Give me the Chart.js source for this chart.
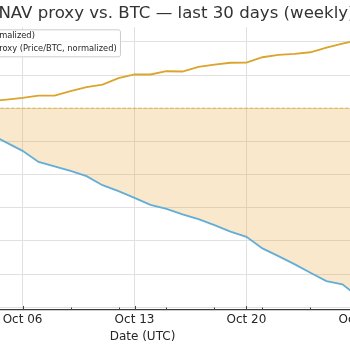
<!DOCTYPE html>
<html>
<head>
<meta charset="utf-8">
<script src="https://cdn.jsdelivr.net/npm/chart.js@4.4.1/dist/chart.umd.min.js"></script>
<style>
  html, body { margin: 0; padding: 0; background: #fff; }
  #frame { position: relative; width: 350px; height: 350px; overflow: hidden; }
  #mnav-chart { position: absolute; left: -160px; top: 0; }
</style>
</head>
<body>
<div id="frame"><canvas id="mnav-chart" width="560" height="350"></canvas></div>
<script>
// daily closes, normalized to the first day
const dates = ['Sep 30', 'Oct 01', 'Oct 02', 'Oct 03', 'Oct 04', 'Oct 05', 'Oct 06', 'Oct 07',
  'Oct 08', 'Oct 09', 'Oct 10', 'Oct 11', 'Oct 12', 'Oct 13', 'Oct 14', 'Oct 15', 'Oct 16',
  'Oct 17', 'Oct 18', 'Oct 19', 'Oct 20', 'Oct 21', 'Oct 22', 'Oct 23', 'Oct 24', 'Oct 25',
  'Oct 26', 'Oct 27'];
const btc = [1.0, 1.0030, 1.0060, 1.0083, 1.0108, 1.0130, 1.0155, 1.0191, 1.0191, 1.0256,
  1.0316, 1.0357, 1.0452, 1.0508, 1.0508, 1.0557, 1.0553, 1.0622, 1.0658, 1.0685, 1.0688,
  1.0768, 1.0803, 1.0818, 1.0843, 1.0913, 1.0974, 1.1027];
const mnav = [1.0, 0.9895, 0.9804, 0.9699, 0.9608, 0.9482, 0.9357, 0.9191, 0.9122, 0.9056,
  0.8976, 0.8840, 0.8750, 0.8649, 0.8544, 0.8483, 0.8399, 0.8328, 0.8238, 0.8140, 0.8062,
  0.7887, 0.7771, 0.7651, 0.7520, 0.7395, 0.7345, 0.7160];
const baseline = 1.0;
const tickLabels = ['Oct 06', 'Oct 13', 'Oct 20', 'Oct 27'];
const yTicks = [0.70, 0.75, 0.80, 0.85, 0.90, 0.95, 1.00, 1.05, 1.10];

const xPad = 0.05 * (dates.length - 1);
const xMin = -xPad, xMax = dates.length - 1 + xPad;
const lo = Math.min(...btc, ...mnav), hi = Math.max(...btc, ...mnav);
const yMin = lo - 0.05 * (hi - lo), yMax = hi + 0.05 * (hi - lo);

const font = { family: 'DejaVu Sans', size: 12 };
const textColor = '#262626';
const gridColor = '#e0e0e0';
const shade = 'rgba(232,165,50,0.25)';

// small inward tick marks on the date axis, every 3 days
const innerTicks = {
  id: 'innerTicks',
  afterDatasetsDraw(chart) {
    const x = chart.scales.x, ctx = chart.ctx, bottom = chart.chartArea.bottom;
    ctx.save();
    ctx.strokeStyle = '#444';
    ctx.lineWidth = 1;
    dates.forEach((d, i) => {
      const major = tickLabels.includes(d);
      if (!major && i % 3 !== 0) return;
      const px = Math.round(x.getPixelForValue(i)) + 0.5;
      ctx.beginPath();
      ctx.moveTo(px, bottom);
      ctx.lineTo(px, bottom - (major ? 3.5 : 2));
      ctx.stroke();
    });
    ctx.restore();
  }
};

// legend box inside the plot, upper left
const insetLegend = {
  id: 'insetLegend',
  afterDraw(chart) {
    const ctx = chart.ctx, area = chart.chartArea;
    const items = chart.data.datasets.filter(ds => ds.label);
    const fs = 8.3;
    ctx.save();
    ctx.font = fs + 'px "DejaVu Sans"';
    const textW = Math.max(...items.map(ds => ctx.measureText(ds.label).width));
    const left = area.left + 9, top = area.top + 2.1;
    const w = 26.3 + textW + 3.3, h = 27;
    ctx.beginPath();
    if (ctx.roundRect) ctx.roundRect(left + 0.5, top + 0.5, w, h, 2);
    else ctx.rect(left + 0.5, top + 0.5, w, h);
    ctx.fillStyle = 'rgba(255,255,255,0.8)';
    ctx.fill();
    ctx.strokeStyle = '#cccccc';
    ctx.lineWidth = 1;
    ctx.stroke();
    items.forEach((ds, i) => {
      const y = top + 7 + i * 12.6;
      ctx.strokeStyle = ds.borderColor;
      ctx.lineWidth = 1.8;
      ctx.beginPath();
      ctx.moveTo(left + 3.3, y);
      ctx.lineTo(left + 19.7, y);
      ctx.stroke();
      ctx.fillStyle = textColor;
      ctx.textBaseline = 'middle';
      ctx.fillText(ds.label, left + 26.3, y);
    });
    ctx.restore();
  }
};

new Chart(document.getElementById('mnav-chart'), {
  type: 'line',
  data: {
    datasets: [
      {
        label: 'BTC price (normalized)',
        data: btc.map((v, i) => ({ x: i, y: v })),
        borderColor: '#dba42c',
        borderWidth: 1.8,
        pointRadius: 0,
        fill: false
      },
      {
        label: 'MSTR mNAV proxy (Price/BTC, normalized)',
        data: mnav.map((v, i) => ({ x: i, y: v })),
        borderColor: '#62aed6',
        borderWidth: 1.8,
        pointRadius: 0,
        fill: { target: { value: baseline }, above: shade, below: shade }
      },
      {
        label: '',
        data: [{ x: xMin, y: baseline }, { x: xMax, y: baseline }],
        borderColor: 'rgba(218,165,32,0.75)',
        borderWidth: 1,
        borderDash: [3.7, 1.6],
        pointRadius: 0,
        fill: false
      }
    ]
  },
  options: {
    responsive: false,
    animation: false,
    devicePixelRatio: 1,
    layout: { padding: { left: 0, right: 20, top: 0, bottom: 0 } },
    plugins: {
      legend: { display: false },
      tooltip: { enabled: false },
      filler: { drawTime: 'beforeDatasetsDraw' },
      title: {
        display: true,
        text: 'MSTR mNAV proxy vs. BTC — last 30 days (weekly)',
        fullSize: false,
        color: '#333',
        font: { family: 'DejaVu Sans', size: 16.6, weight: 'normal' },
        padding: { top: 4, bottom: 3.3 }
      }
    },
    scales: {
      x: {
        type: 'linear',
        min: xMin,
        max: xMax,
        afterBuildTicks: s => { s.ticks = tickLabels.map(l => ({ value: dates.indexOf(l) })); },
        afterFit: s => { s.height = 40.5; },
        ticks: {
          autoSkip: false,
          maxRotation: 0,
          padding: 3.3,
          color: textColor,
          font,
          callback: v => dates[v]
        },
        grid: { color: gridColor, drawTicks: false },
        border: { color: '#3a3a3a', width: 1.2 },
        title: {
          display: true,
          text: 'Date (UTC)',
          color: textColor,
          font,
          padding: { top: 0, bottom: 5.8 }
        }
      },
      y: {
        min: yMin,
        max: yMax,
        afterBuildTicks: s => { s.ticks = yTicks.map(v => ({ value: v })); },
        afterFit: s => { s.width = 65; },
        ticks: { color: textColor, font, padding: 4, callback: v => v.toFixed(2) },
        grid: { color: gridColor, drawTicks: false },
        border: { display: false },
        title: { display: true, text: 'Normalized (start = 1.0)', color: textColor, font }
      }
    }
  },
  plugins: [innerTicks, insetLegend]
});
</script>
</body>
</html>
